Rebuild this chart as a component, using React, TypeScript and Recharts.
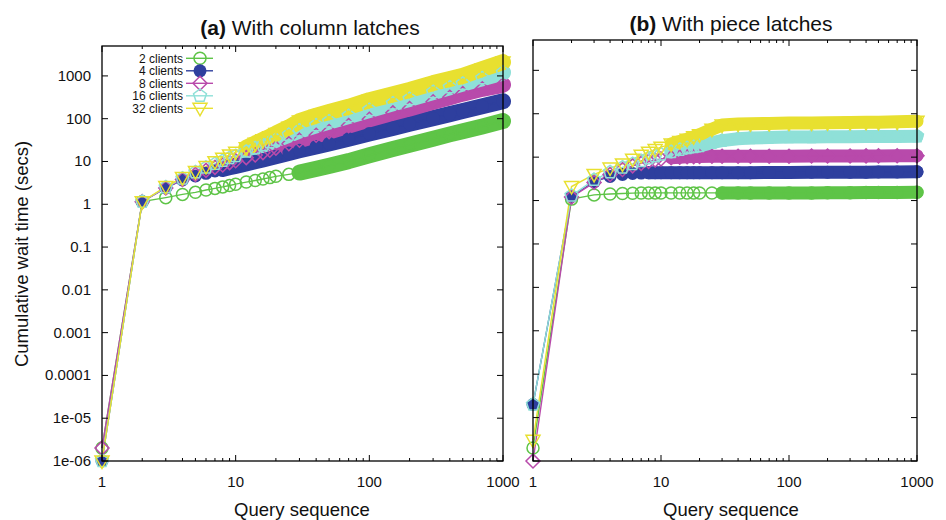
import { LineChart, Line, XAxis, YAxis } from 'recharts';

const QUERY = [1, 2, 3, 4, 5, 6, 7, 8, 9, 10, 12, 14, 16, 18, 20, 25, 30, 40, 50, 70, 100, 150, 200, 300, 400, 500, 700, 1000];

const SERIES_NAMES = ['2 clients', '4 clients', '8 clients', '16 clients', '32 clients'];

// (a) with column latches, cumulative wait time in secs
const A_2_CLIENTS = [2e-6, 1.15, 1.43, 1.7, 1.9, 2.15, 2.35, 2.55, 2.75, 2.95, 3.3, 3.6, 3.9, 4.2, 4.5, 5.0, 5.5, 6.7, 7.9, 10.2, 14, 19.5, 24.5, 34, 43, 51, 66, 88];
const A_4_CLIENTS = [1e-6, 1.15, 2.4, 3.7, 4.6, 5.3, 6.0, 6.7, 7.3, 7.9, 9.0, 10.1, 11.2, 12.3, 13.3, 15.8, 18.2, 22.5, 26.5, 34, 45, 61, 76, 103, 128, 151, 195, 255];
const A_8_CLIENTS = [2e-6, 1.15, 2.4, 3.8, 5.0, 6.2, 7.3, 8.3, 9.4, 10.4, 12.3, 14.2, 16.1, 18.3, 20.5, 26, 31.5, 41, 50, 69, 97, 137, 173, 248, 318, 385, 500, 620];
const A_16_CLIENTS = [1e-6, 1.15, 2.5, 4.0, 5.6, 7.2, 8.8, 10.4, 12, 13.5, 17, 20.5, 24, 28, 32, 42, 53, 70, 86, 116, 160, 228, 290, 420, 540, 660, 880, 1200];
const A_32_CLIENTS = [1e-6, 1.15, 2.6, 4.2, 5.8, 7.6, 9.9, 11.9, 14.2, 16.4, 21, 26.5, 32, 38, 45, 63, 88, 118, 143, 190, 270, 370, 470, 680, 850, 1000, 1450, 2100];

// (b) with piece latches
const B_2_CLIENTS = [2e-6, 1.08, 1.35, 1.42, 1.46, 1.48, 1.5, 1.5, 1.5, 1.5, 1.5, 1.5, 1.5, 1.5, 1.5, 1.5, 1.5, 1.5, 1.5, 1.5, 1.5, 1.5, 1.52, 1.52, 1.53, 1.53, 1.54, 1.55];
const B_4_CLIENTS = [2e-5, 1.25, 2.7, 3.6, 4.0, 4.2, 4.3, 4.35, 4.4, 4.4, 4.4, 4.4, 4.4, 4.4, 4.4, 4.4, 4.4, 4.4, 4.4, 4.45, 4.45, 4.5, 4.5, 4.5, 4.5, 4.55, 4.55, 4.6];
const B_8_CLIENTS = [1e-6, 1.2, 2.6, 4.0, 5.2, 6.3, 7.2, 8.0, 8.6, 9.1, 9.7, 10.0, 10.2, 10.3, 10.4, 10.5, 10.5, 10.5, 10.5, 10.5, 10.5, 10.6, 10.6, 10.6, 10.7, 10.7, 10.8, 10.8];
const B_16_CLIENTS = [2e-5, 1.3, 3.0, 4.5, 5.8, 7.0, 8.2, 9.4, 10.5, 11.5, 13.2, 14.8, 16.2, 17.2, 18, 21.5, 24, 26.5, 27.5, 28.3, 29, 29.2, 29.4, 29.6, 29.8, 30, 30, 30.5];
const B_32_CLIENTS = [3e-6, 2.1, 4.0, 5.6, 7.0, 9.0, 11, 13, 15, 17, 20, 23, 26, 29.5, 33, 44, 55, 58, 59, 60, 61, 61.5, 62, 63, 63.5, 64, 65, 67];

const Y_TICKS = [1e-6, 1e-5, 1e-4, 1e-3, 0.01, 0.1, 1, 10, 100, 1000];
const Y_TICK_LABELS = ['1e-06', '1e-05', '0.0001', '0.001', '0.01', '0.1', '1', '10', '100', '1000'];
const X_MAJOR = [1, 10, 100, 1000];
const X_MAJOR_LABELS = ['1', '10', '100', '1000'];

const X_TICKS: number[] = [];
X_MAJOR.forEach((d, i) => {
  X_TICKS.push(d);
  if (i < X_MAJOR.length - 1) for (let k = 2; k <= 9; k++) X_TICKS.push(d * k);
});

const STYLES = [
  { color: '#5ec447', shape: 'circle', bandFrom: 30 },
  { color: '#2e3f9e', shape: 'disc', bandFrom: 8 },
  { color: '#b84aab', shape: 'diamond', bandFrom: 12 },
  { color: '#8fe0d8', shape: 'pentagon', bandFrom: 12 },
  { color: '#e8e030', shape: 'triangle', bandFrom: 12 },
];

const FONT = "'Liberation Sans', Arial, Helvetica, sans-serif";
const YAXIS_W = 10;
const XAXIS_H = 30;
const PAGE_H = 520;

function Marker({ cx, cy, shape, color }: { cx: number; cy: number; shape: string; color: string }) {
  const sw = 1.5;
  if (shape === 'circle') return <circle cx={cx} cy={cy} r={6} fill="none" stroke={color} strokeWidth={sw} />;
  if (shape === 'disc') return <circle cx={cx} cy={cy} r={6.5} fill={color} />;
  if (shape === 'diamond') {
    const r = 7;
    return <polygon points={`${cx},${cy - r} ${cx + r},${cy} ${cx},${cy + r} ${cx - r},${cy}`} fill="none" stroke={color} strokeWidth={sw} />;
  }
  if (shape === 'pentagon') {
    const r = 6.8;
    const pts = [0, 1, 2, 3, 4].map((k) => {
      const a = -Math.PI / 2 + (k * 2 * Math.PI) / 5;
      return `${cx + r * Math.cos(a)},${cy + r * Math.sin(a)}`;
    });
    return <polygon points={pts.join(' ')} fill="none" stroke={color} strokeWidth={sw} />;
  }
  return <polygon points={`${cx - 7},${cy - 5} ${cx + 7},${cy - 5} ${cx},${cy + 7.5}`} fill="none" stroke={color} strokeWidth={sw} />;
}

type Plot = { left: number; right: number; top: number; bottom: number };

function Panel({ chartLeft, chartWidth, plot, series, showYLabels, band }: {
  chartLeft: number; chartWidth: number; plot: Plot; series: number[][]; showYLabels: boolean; band: number;
}) {
  // plot box relative to this chart's svg
  const p = { left: plot.left - chartLeft, right: plot.right - chartLeft, top: plot.top, bottom: plot.bottom };

  const XTick = (props: any) => {
    const { x, payload } = props;
    const mi = X_MAJOR.indexOf(payload.value);
    const len = mi >= 0 ? 6 : 3;
    return (
      <g>
        <line x1={x} x2={x} y1={p.bottom} y2={p.bottom - len} stroke="#000" />
        <line x1={x} x2={x} y1={p.top} y2={p.top + len} stroke="#000" />
        {mi >= 0 && (
          <text x={x} y={p.bottom + 26} textAnchor="middle" fontSize={15} fontFamily={FONT} fill="#111">
            {X_MAJOR_LABELS[mi]}
          </text>
        )}
      </g>
    );
  };

  const YTick = (props: any) => {
    const { y, payload } = props;
    const i = Y_TICKS.indexOf(payload.value);
    return (
      <g>
        <line x1={p.left} x2={p.left + 6} y1={y} y2={y} stroke="#000" />
        <line x1={p.right} x2={p.right - 6} y1={y} y2={y} stroke="#000" />
        {showYLabels && i >= 0 && (
          <text x={p.left - 11} y={y + 5} textAnchor="end" fontSize={15} fontFamily={FONT} fill="#111">
            {Y_TICK_LABELS[i]}
          </text>
        )}
      </g>
    );
  };

  return (
    <div style={{ position: 'absolute', left: chartLeft, top: 0 }}>
      <LineChart
        width={chartWidth}
        height={PAGE_H}
        margin={{ top: p.top, bottom: PAGE_H - p.bottom - XAXIS_H, left: p.left - YAXIS_W, right: chartWidth - p.right }}
      >
        <XAxis
          dataKey="x"
          type="number"
          scale="log"
          domain={[1, 1000]}
          ticks={X_TICKS}
          interval={0}
          tick={<XTick />}
          tickLine={false}
          axisLine={false}
          tickSize={0}
          tickMargin={0}
          height={XAXIS_H}
        />
        <YAxis
          type="number"
          scale="log"
          domain={[1e-6, 5000]}
          ticks={Y_TICKS}
          interval={0}
          tick={<YTick />}
          tickLine={false}
          axisLine={false}
          tickSize={0}
          tickMargin={0}
          width={YAXIS_W}
        />
        {series.flatMap((vals, si) => {
          const st = STYLES[si];
          const pts = QUERY.map((x, i) => ({ x, y: vals[i] }));
          return [
            <Line
              key={`band-${si}`}
              data={pts.filter((d) => d.x >= st.bandFrom)}
              dataKey="y"
              stroke={st.color}
              strokeWidth={band}
              strokeLinecap="round"
              strokeLinejoin="round"
              dot={false}
              activeDot={false}
              isAnimationActive={false}
            />,
            <Line
              key={`line-${si}`}
              data={pts}
              dataKey="y"
              stroke={st.color}
              strokeWidth={1.4}
              dot={(dp: any) => <Marker key={`m-${si}-${dp.index}`} cx={dp.cx} cy={dp.cy} shape={st.shape} color={st.color} />}
              activeDot={false}
              isAnimationActive={false}
            />,
          ];
        })}
      </LineChart>
    </div>
  );
}

const PLOT_A: Plot = { left: 102, right: 503, top: 46, bottom: 461 };
const PLOT_B: Plot = { left: 533, right: 917, top: 40, bottom: 461 };

export default function App() {
  return (
    <div style={{ position: 'absolute', left: 0, top: 0, width: 946, height: PAGE_H, background: '#fff', fontFamily: FONT }}>
      <Panel chartLeft={0} chartWidth={520} plot={PLOT_A} series={[A_2_CLIENTS, A_4_CLIENTS, A_8_CLIENTS, A_16_CLIENTS, A_32_CLIENTS]} showYLabels band={16} />
      <Panel chartLeft={520} chartWidth={426} plot={PLOT_B} series={[B_2_CLIENTS, B_4_CLIENTS, B_8_CLIENTS, B_16_CLIENTS, B_32_CLIENTS]} showYLabels={false} band={13} />

      <svg width={946} height={PAGE_H} style={{ position: 'absolute', left: 0, top: 0, pointerEvents: 'none' }}>
        {[PLOT_A, PLOT_B].map((pl, i) => (
          <rect key={i} x={pl.left} y={pl.top} width={pl.right - pl.left} height={pl.bottom - pl.top} fill="none" stroke="#000" strokeWidth={1.3} />
        ))}

        <text x={310} y={35} textAnchor="middle" fontSize={21} fontFamily={FONT} fill="#111">
          <tspan fontWeight="bold">(a)</tspan> With column latches
        </text>
        <text x={731} y={31} textAnchor="middle" fontSize={21} fontFamily={FONT} fill="#111">
          <tspan fontWeight="bold">(b)</tspan> With piece latches
        </text>

        <text x={302} y={516} textAnchor="middle" fontSize={18.5} fontFamily={FONT} fill="#111">Query sequence</text>
        <text x={731} y={516} textAnchor="middle" fontSize={18.5} fontFamily={FONT} fill="#111">Query sequence</text>
        <text transform="translate(28,254) rotate(-90)" textAnchor="middle" fontSize={18.5} fontFamily={FONT} fill="#111">
          Cumulative wait time (secs)
        </text>

        {SERIES_NAMES.map((name, i) => {
          const cy = 58.3 + i * 12.5;
          const st = STYLES[i];
          return (
            <g key={name}>
              <text x={183} y={cy + 4.3} textAnchor="end" fontSize={12} fontFamily={FONT} fill="#111">{name}</text>
              <line x1={186} x2={213} y1={cy} y2={cy} stroke={st.color} strokeWidth={1.4} />
              <Marker cx={200} cy={cy} shape={st.shape} color={st.color} />
            </g>
          );
        })}
      </svg>
    </div>
  );
}
